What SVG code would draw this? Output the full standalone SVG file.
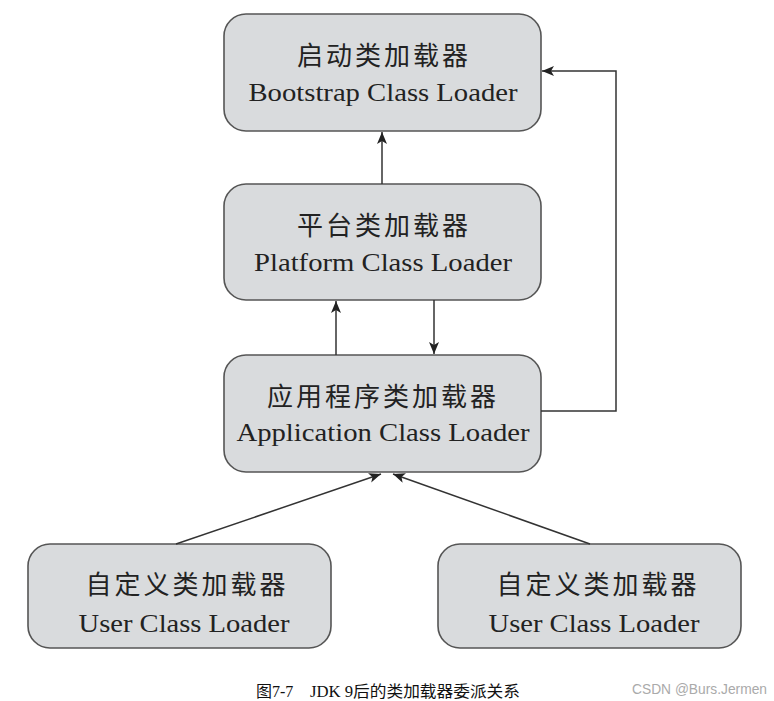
<svg xmlns="http://www.w3.org/2000/svg" width="774" height="701" viewBox="0 0 774 701">
<defs>
<marker id="ah" viewBox="0 0 12 10" refX="12" refY="5" markerWidth="12" markerHeight="10" markerUnits="userSpaceOnUse" orient="auto">
<path d="M0,0 L12,5 L0,10 L3,5 Z" fill="#222"/>
</marker>
<style>
.box{fill:#d9dbdd;stroke:#555;stroke-width:1.6}
.cn{font-family:"Noto Sans CJK SC","Noto Sans CJK JP",sans-serif;font-size:26px;fill:#222;text-anchor:middle;letter-spacing:3px}
.en{font-family:"Liberation Serif",serif;font-size:26px;fill:#222;text-anchor:middle}
.ln{fill:none;stroke:#333;stroke-width:1.5}
</style>
</defs>
<rect width="774" height="701" fill="#fff"/>
<g id="bootstrap">
<rect class="box" x="224" y="14" width="317" height="117" rx="22"/>
<text class="cn" x="384" y="65">启动类加载器</text>
<text class="en" x="383" y="101" textLength="269" lengthAdjust="spacingAndGlyphs">Bootstrap Class Loader</text>
</g>
<g id="platform">
<rect class="box" x="224" y="184" width="317" height="116" rx="22"/>
<text class="cn" x="384" y="235">平台类加载器</text>
<text class="en" x="383" y="271" textLength="258" lengthAdjust="spacingAndGlyphs">Platform Class Loader</text>
</g>
<g id="application">
<rect class="box" x="224" y="355" width="317" height="117" rx="22"/>
<text class="cn" x="383" y="406">应用程序类加载器</text>
<text class="en" x="383" y="441" textLength="293" lengthAdjust="spacingAndGlyphs">Application Class Loader</text>
</g>
<g id="user1">
<rect class="box" x="28" y="544" width="303" height="104" rx="22"/>
<text class="cn" x="187" y="594">自定义类加载器</text>
<text class="en" x="184" y="632" textLength="211" lengthAdjust="spacingAndGlyphs">User Class Loader</text>
</g>
<g id="user2">
<rect class="box" x="438" y="544" width="303" height="104" rx="22"/>
<text class="cn" x="598" y="594">自定义类加载器</text>
<text class="en" x="594" y="632" textLength="211" lengthAdjust="spacingAndGlyphs">User Class Loader</text>
</g>
<g id="connectors">
<line class="ln" x1="382" y1="184" x2="382" y2="132" marker-end="url(#ah)"/>
<line class="ln" x1="336" y1="355" x2="336" y2="301" marker-end="url(#ah)"/>
<line class="ln" x1="434" y1="300" x2="434" y2="354" marker-end="url(#ah)"/>
<polyline class="ln" points="541,411 616,411 616,71 542,71" marker-end="url(#ah)"/>
<line class="ln" x1="176" y1="544" x2="381" y2="474" marker-end="url(#ah)"/>
<line class="ln" x1="590" y1="544" x2="393" y2="474" marker-end="url(#ah)"/>
</g>
<text x="256" y="697" font-family="Liberation Serif,'Noto Sans CJK SC',serif" font-size="16" fill="#111">图7-7<tspan x="310" textLength="210" lengthAdjust="spacingAndGlyphs">JDK 9后的类加载器委派关系</tspan></text>
<text x="632" y="694" font-family="'Liberation Sans',sans-serif" font-size="14" fill="#aaa" textLength="135" lengthAdjust="spacingAndGlyphs">CSDN @Burs.Jermen</text>
</svg>
